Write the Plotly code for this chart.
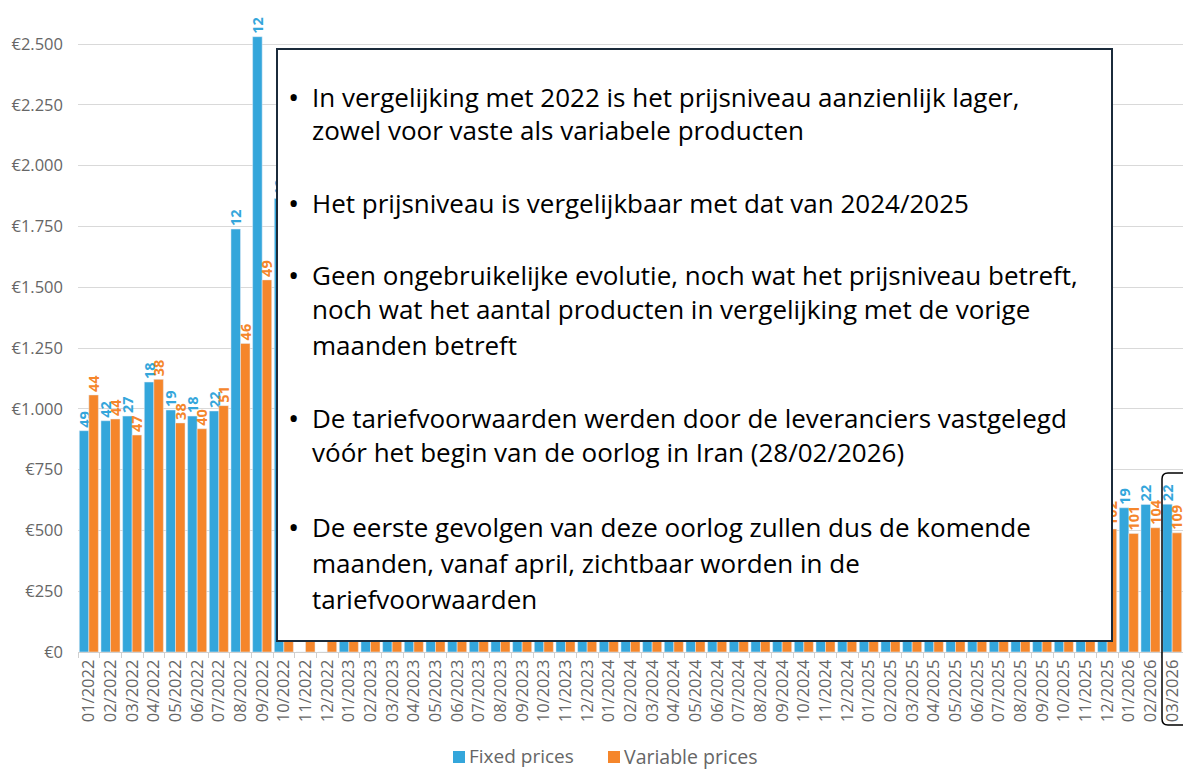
import plotly.graph_objects as go

months = ["01/2022","02/2022","03/2022","04/2022","05/2022","06/2022","07/2022","08/2022","09/2022","10/2022","11/2022","12/2022",
          "01/2023","02/2023","03/2023","04/2023","05/2023","06/2023","07/2023","08/2023","09/2023","10/2023","11/2023","12/2023",
          "01/2024","02/2024","03/2024","04/2024","05/2024","06/2024","07/2024","08/2024","09/2024","10/2024","11/2024","12/2024",
          "01/2025","02/2025","03/2025","04/2025","05/2025","06/2025","07/2025","08/2025","09/2025","10/2025","11/2025","12/2025",
          "01/2026","02/2026","03/2026"]

# Euro price levels (values hidden behind the text box are estimates)
fixed_prices = [910, 951, 970, 1110, 995, 970, 991, 1739, 2530, 1865, 0, 0,
                1250, 1150, 1050, 950, 900, 850, 820, 800, 790, 780, 770, 760,
                720, 700, 680, 660, 650, 650, 660, 670, 680, 690, 700, 700,
                690, 680, 660, 640, 630, 620, 610, 610, 610, 600, 600, 600,
                593, 607, 608]
variable_prices = [1057, 958, 892, 1121, 942, 918, 1013, 1269, 1530, 1600, 1500, 1350,
                   1200, 1100, 950, 850, 780, 720, 700, 680, 670, 660, 650, 640,
                   600, 580, 560, 550, 540, 540, 550, 560, 570, 580, 590, 590,
                   580, 570, 550, 530, 520, 510, 505, 505, 505, 505, 505, 506,
                   487, 511, 490]
# number of products (data labels)
fixed_counts = ["49","42","27","18","19","18","22","12","12","12","","",
                "15","16","17","18","19","20","20","21","21","22","22","22",
                "22","22","22","22","22","22","22","22","22","22","22","22",
                "22","22","22","22","22","22","21","21","20","20","20","19",
                "19","22","22"]
variable_counts = ["44","44","47","38","38","40","51","46","49","50","52","55",
                   "60","62","65","70","72","75","78","80","82","85","88","90",
                   "92","94","95","96","96","97","97","98","98","99","99","100",
                   "100","100","100","101","101","101","101","102","102","102","102","102",
                   "101","104","109"]

tick_vals = [0, 250, 500, 750, 1000, 1250, 1500, 1750, 2000, 2250, 2500]
tick_text = ["€0","€250","€500","€750","€1.000","€1.250","€1.500","€1.750","€2.000","€2.250","€2.500"]

series_names = ["Fixed prices", "Variable prices"]

BLUE = "#34a6db"
ORANGE = "#f5862b"
GRAY = "#666666"

W, H = 1183, 770
L, R_EDGE, TOP, BOT = 78, 1183, 10, 652

def px(x):
    return (x - L) / (R_EDGE - L)

def py(y):
    return (BOT - y) / (BOT - TOP)

fig = go.Figure()
fig.add_trace(go.Bar(name=series_names[0], x=months, y=fixed_prices, marker_color=BLUE,
                     text=fixed_counts, textposition="outside", textangle=-90,
                     textfont=dict(color=BLUE, size=14.5, family="Open Sans", weight="bold"),
                     cliponaxis=False, constraintext="none", showlegend=False))
fig.add_trace(go.Bar(name=series_names[1], x=months, y=variable_prices, marker_color=ORANGE,
                     text=variable_counts, textposition="outside", textangle=-90,
                     textfont=dict(color=ORANGE, size=14.5, family="Open Sans", weight="bold"),
                     cliponaxis=False, constraintext="none", showlegend=False))

ymax = 2500 * (BOT - TOP) / (BOT - 44)

fig.update_layout(
    width=W, height=H,
    margin=dict(l=L, r=W - R_EDGE, t=TOP, b=H - BOT, pad=0, autoexpand=False),
    plot_bgcolor="white", paper_bgcolor="white",
    barmode="group", bargap=0.12, bargroupgap=0,
    font=dict(family="Open Sans", color=GRAY),
    showlegend=False,
    xaxis=dict(type="category", range=[-0.5, 50.5], tickangle=-90, tickfont=dict(size=16.5, color=GRAY),
               ticks="outside", ticklen=5, tickcolor="#d0d0d0", tickson="boundaries",
               showline=True, linecolor="#d0d0d0", linewidth=1, showgrid=False, automargin=False),
    yaxis=dict(range=[0, ymax], tickvals=tick_vals, ticktext=tick_text, tickfont=dict(size=16.5, color=GRAY),
               showgrid=True, gridcolor="#d9d9d9", gridwidth=1, zeroline=False, ticks="",
               ticklabelstandoff=14, automargin=False),
)

# Legend: colored squares + labels below the axis
for color, name, sq_x, sz in [(BLUE, series_names[0], 453, 19), (ORANGE, series_names[1], 608, 19.5)]:
    fig.add_shape(type="rect", xref="paper", yref="paper", x0=px(sq_x), x1=px(sq_x + 12),
                  y0=py(763), y1=py(751), fillcolor=color, line=dict(width=0))
    fig.add_annotation(text=name, xref="paper", yref="paper", x=px(sq_x + 14), y=py(756),
                       xanchor="left", yanchor="middle", showarrow=False,
                       font=dict(size=sz, color=GRAY, family="Open Sans"))

# Text box covering the middle
fig.add_shape(type="rect", xref="paper", yref="paper", x0=px(277), x1=px(1112), y0=py(641), y1=py(49),
              fillcolor="white", line=dict(color="#1b2b3b", width=2), layer="above")

paragraphs = [
    (["In vergelijking met 2022 is het prijsniveau aanzienlijk lager,",
      "zowel voor vaste als variabele producten"], [97, 130]),
    (["Het prijsniveau is vergelijkbaar met dat van 2024/2025"], [203]),
    (["Geen ongebruikelijke evolutie, noch wat het prijsniveau betreft,",
      "noch wat het aantal producten in vergelijking met de vorige",
      "maanden betreft"], [275, 309, 345]),
    (["De tariefvoorwaarden werden door de leveranciers vastgelegd",
      "vóór het begin van de oorlog in Iran (28/02/2026)"], [418, 452]),
    (["De eerste gevolgen van deze oorlog zullen dus de komende",
      "maanden, vanaf april, zichtbaar worden in de",
      "tariefvoorwaarden"], [527, 563, 599]),
]
TXT_FONT = dict(size=26, color="black", family="Open Sans")
BUL_FONT = dict(size=30, color="black", family="Open Sans")
for lines, ys in paragraphs:
    fig.add_annotation(text="•", xref="paper", yref="paper", x=px(293), y=py(ys[0] - 1),
                       xanchor="center", yanchor="middle", showarrow=False, font=BUL_FONT)
    for line, yy in zip(lines, ys):
        fig.add_annotation(text=line, xref="paper", yref="paper", x=px(310), y=py(yy),
                           xanchor="left", yanchor="middle", showarrow=False, font=TXT_FONT)

# Highlight around the last month
x0, x1, y0, y1, r = 1162, 1200, 473, 725, 6
path = (f"M {px(x0 + r)},{py(y0)} L {px(x1)},{py(y0)} L {px(x1)},{py(y1)} L {px(x0 + r)},{py(y1)} "
        f"Q {px(x0)},{py(y1)} {px(x0)},{py(y1 - r)} L {px(x0)},{py(y0 + r)} Q {px(x0)},{py(y0)} {px(x0 + r)},{py(y0)}")
fig.add_shape(type="path", xref="paper", yref="paper", path=path, line=dict(color="black", width=1.5),
              layer="above")

fig.write_html("out.html", config={"displayModeBar": False},
               post_script="document.body.style.margin='0';document.body.style.overflow='hidden';")
